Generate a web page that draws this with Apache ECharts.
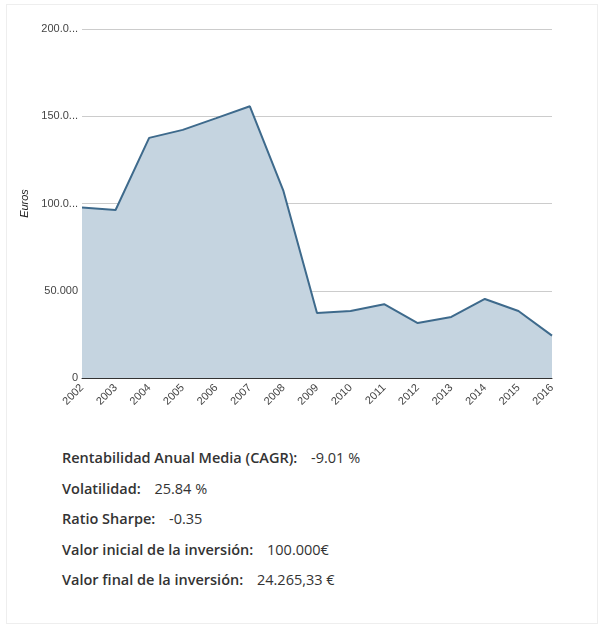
<!DOCTYPE html>
<html>
<head>
<meta charset="utf-8">
<script src="https://cdn.jsdelivr.net/npm/echarts@6/dist/echarts.min.js"></script>
<style>
  body { margin: 0; background: #fff; font-family: "Open Sans", sans-serif; }
  #box { position: absolute; left: 6px; top: 4px; width: 590px; height: 618px; border: 1px solid #eee; }
  #main { position: absolute; left: 0; top: 0; width: 603px; height: 430px; }
  #stats { position: absolute; left: 62px; top: 448px; font-size: 14.5px; color: #333; }
  #stats div { height: 30.5px; }
  #stats b { font-weight: 600; margin-right: 10px; }
</style>
</head>
<body>
<div id="box"></div>
<div id="main"></div>
<div id="stats"></div>
<script>
var years = ['2002','2003','2004','2005','2006','2007','2008','2009','2010','2011','2012','2013','2014','2015','2016'];
var values = [97700, 96300, 137600, 142200, 148900, 155700, 107200, 37200, 38400, 42300, 31500, 35000, 45300, 38400, 24265];
var statLabels = ['Rentabilidad Anual Media (CAGR):', 'Volatilidad:', 'Ratio Sharpe:', 'Valor inicial de la inversión:', 'Valor final de la inversión:'];
var statValues = ['-9.01 %', '25.84 %', '-0.35', '100.000€', '24.265,33 €'];

var html = '';
for (var i = 0; i < statLabels.length; i++) {
    html += '<div><b>' + statLabels[i] + '</b> ' + statValues[i] + '</div>';
}
document.getElementById('stats').innerHTML = html;

var chart = echarts.init(document.getElementById('main'));
chart.setOption({
    animation: false,
    grid: { left: 82, right: 51, top: 29, bottom: 52 },
    xAxis: {
        type: 'category',
        data: years,
        boundaryGap: false,
        axisLine: { lineStyle: { color: '#333' } },
        axisTick: { show: false },
        axisLabel: { rotate: 45, color: '#444', fontSize: 11, fontFamily: 'Arial', margin: 8 }
    },
    yAxis: {
        type: 'value',
        min: 0, max: 200000, interval: 50000,
        name: 'Euros',
        nameLocation: 'middle',
        nameGap: 48,
        nameTextStyle: { fontStyle: 'italic', color: '#222', fontSize: 11, fontFamily: 'Arial' },
        axisLine: { show: false },
        axisTick: { show: false },
        splitLine: { lineStyle: { color: '#ccc' } },
        axisLabel: {
            color: '#444', fontSize: 11, fontFamily: 'Arial', margin: 4,
            formatter: function (v) {
                if (v === 0) return '0';
                var s = (v / 1000).toFixed(3);
                return s.length > 6 ? s.slice(0, 5) + '...' : s;
            }
        }
    },
    series: [{
        type: 'line',
        data: values,
        symbol: 'none',
        lineStyle: { color: '#3e6a8c', width: 2 },
        areaStyle: { color: '#c5d4e0', opacity: 1 }
    }]
});
</script>
</body>
</html>
